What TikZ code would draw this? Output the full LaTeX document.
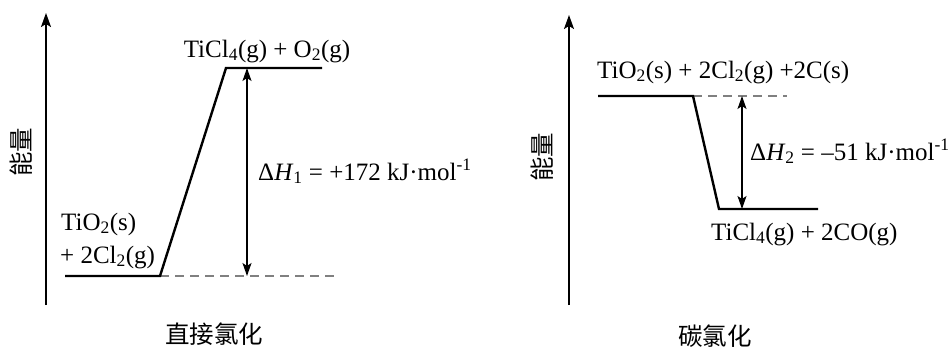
\documentclass[tikz,border=0pt]{standalone}
\usepackage{fontspec}
\setmainfont{Liberation Serif}
\newfontfamily\cjk{Noto Sans CJK SC}
\usetikzlibrary{arrows.meta}
\tikzset{
  axis/.style={line width=1.5pt,-{Stealth[length=14pt,width=10pt,inset=3pt]}},
  level/.style={line width=2.4pt},
  guide/.style={line width=1.4pt,gray,dash pattern=on 9pt off 6pt},
  dh/.style={line width=1.5pt,{Stealth[length=13pt,width=9pt,inset=3pt]}-{Stealth[length=13pt,width=9pt,inset=3pt]}},
  lab/.style={font=\fontsize{25}{29}\selectfont,inner sep=0pt},
  cjklab/.style={font=\cjk\fontsize{24.5}{28}\selectfont,inner sep=0pt},
}
\begin{document}
\begin{tikzpicture}[x=1pt,y=-1pt]
\useasboundingbox (0,0) rectangle (950,351);
% ---- left panel ----
\coordinate (la0) at (46,305);
\coordinate (la1) at (46,13);
\draw[axis] (la0) -- (la1);
\coordinate (l1) at (65,276);
\coordinate (l2) at (160,276);
\coordinate (l3) at (226,68);
\coordinate (l4) at (322,68);
\coordinate (ld) at (335,276);
\coordinate (lat) at (247,68);
\coordinate (lab) at (247,276);
\draw[guide] (l2) -- (ld);
\draw[level] (l1) -- (l2) -- (l3) -- (l4);
\draw[dh] (lat) -- (lab);
\node[lab,anchor=base] (ltop) at (267,57) {TiCl\textsubscript{4}(g) + O\textsubscript{2}(g)};
\node[lab,anchor=base west] (lbot1) at (61,230) {TiO\textsubscript{2}(s)};
\node[lab,anchor=base west] (lbot2) at (60,263) {+ 2Cl\textsubscript{2}(g)};
\node[lab,anchor=base west] (ldh) at (258,180) {Δ\textit{H}\textsubscript{1} = +172 kJ·mol\textsuperscript{-1}};
\node[cjklab,rotate=90] (ly) at (21,152) {能量};
\node[cjklab] (lt) at (214,334) {直接氯化};
% ---- right panel ----
\coordinate (ra0) at (569,305);
\coordinate (ra1) at (569,15);
\draw[axis] (ra0) -- (ra1);
\coordinate (r1) at (598,96);
\coordinate (r2) at (693,96);
\coordinate (r3) at (719,209);
\coordinate (r4) at (818,209);
\coordinate (rd) at (787,96);
\coordinate (rat) at (742,96);
\coordinate (rab) at (742,209);
\draw[guide] (r2) -- (rd);
\draw[level] (r1) -- (r2) -- (r3) -- (r4);
\draw[dh] (rat) -- (rab);
\node[lab,anchor=base west] (rtop) at (597,78) {TiO\textsubscript{2}(s) + 2Cl\textsubscript{2}(g) +2C(s)};
\node[lab,anchor=base west] (rbot) at (711,240) {TiCl\textsubscript{4}(g) + 2CO(g)};
\node[lab,anchor=base west] (rdh) at (750,160) {Δ\textit{H}\textsubscript{2} = –51 kJ·mol\textsuperscript{-1}};
\node[cjklab,rotate=90] (ry) at (542,157) {能量};
\node[cjklab] (rt) at (715,336) {碳氯化};
\end{tikzpicture}
\end{document}
